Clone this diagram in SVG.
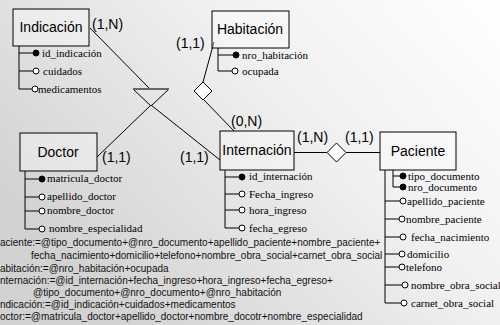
<svg xmlns="http://www.w3.org/2000/svg" width="500" height="325" viewBox="0 0 500 325">
<defs>
<linearGradient id="bg" x1="0" y1="0.6" x2="1" y2="0">
<stop offset="0" stop-color="#d2d2d2"/>
<stop offset="0.55" stop-color="#f0f0f0"/>
<stop offset="1" stop-color="#ffffff"/>
</linearGradient>
</defs>
<style>
.box{fill:#ffffff;fill-opacity:0.35;stroke:#000;stroke-width:1}
.ent{font-family:"Liberation Sans",Arial,sans-serif;font-size:14px;fill:#000;text-anchor:middle}
.card{font-family:"Liberation Sans",Arial,sans-serif;font-size:14px;fill:#000}
.att{font-family:"Liberation Serif","Times New Roman",serif;font-size:11px;fill:#000}
.ln{stroke:#000;stroke-width:1;fill:none}
.key{fill:#000;stroke:#000;stroke-width:1}
.opt{fill:#fff;stroke:#000;stroke-width:1}
.rel{fill:#fff;stroke:#000;stroke-width:1}
.def{font-family:"Liberation Sans",Arial,sans-serif;font-size:10px;fill:#111}
</style>
<rect width="500" height="325" fill="url(#bg)"/>

<g id="connectors">
<line class="ln" x1="90" y1="28" x2="150" y2="89"/>
<line class="ln" x1="151" y1="105" x2="97" y2="157"/>
<line class="ln" x1="151" y1="105" x2="220" y2="160"/>
<line class="ln" x1="214" y1="42" x2="203" y2="82"/>
<line class="ln" x1="204" y1="100" x2="234" y2="131"/>
<line class="ln" x1="294" y1="152.5" x2="327" y2="152.5"/>
<line class="ln" x1="346" y1="152.5" x2="380" y2="152.5"/>
</g>

<g id="rel-indicacion">
<polygon class="ln" points="133,89 169,89 151,106"/>
<line x1="133" y1="89" x2="169" y2="89" stroke="#666" stroke-width="2"/>
</g>
<g id="rel-habitacion">
<polygon class="rel" points="203,82 212,91 203,100 194,91"/>
</g>
<g id="rel-paciente">
<polygon class="rel" points="336.5,143 346,152.5 336.5,162 327,152.5"/>
</g>

<g id="labels">
<text class="card" x="92" y="29">(1,N)</text>
<text class="card" x="176" y="48">(1,1)</text>
<text class="card" x="231" y="126">(0,N)</text>
<text class="card" x="102" y="162">(1,1)</text>
<text class="card" x="180" y="162">(1,1)</text>
<text class="card" x="297" y="142">(1,N)</text>
<text class="card" x="345" y="142">(1,1)</text>
</g>

<g id="indicacion">
<rect class="box" x="13" y="9" width="76" height="37"/>
<text class="ent" x="51" y="32">Indicación</text>
<path class="ln" d="M19,46 V89 H33 M19,53 H33 M19,71 H33"/>
<circle class="key" cx="36" cy="53" r="3"/>
<circle class="opt" cx="36" cy="71" r="3"/>
<circle class="opt" cx="35" cy="89" r="3"/>
<text class="att" x="42" y="57">id_indicación</text>
<text class="att" x="43" y="75">cuidados</text>
<text class="att" x="38" y="93">medicamentos</text>
</g>

<g id="habitacion">
<rect class="box" x="212" y="11" width="77" height="37"/>
<text class="ent" x="250" y="34">Habitación</text>
<path class="ln" d="M218,48 V71 H232 M218,55 H233"/>
<circle class="key" cx="236" cy="55" r="3"/>
<circle class="opt" cx="235" cy="71" r="3"/>
<text class="att" x="242" y="59">nro_habitación</text>
<text class="att" x="242" y="75">ocupada</text>
</g>

<g id="doctor">
<rect class="box" x="20" y="133" width="77" height="38"/>
<text class="ent" x="58" y="157">Doctor</text>
<path class="ln" d="M25,171 V229 H39 M25,179 H39 M25,197 H39 M25,211 H39"/>
<circle class="key" cx="42" cy="179" r="3"/>
<circle class="opt" cx="42" cy="197" r="3"/>
<circle class="opt" cx="42" cy="211" r="3"/>
<circle class="opt" cx="42" cy="229" r="3"/>
<text class="att" x="47" y="182">matricula_doctor</text>
<text class="att" x="47" y="200">apellido_doctor</text>
<text class="att" x="47" y="214">nombre_doctor</text>
<text class="att" x="49" y="232">nombre_especialidad</text>
</g>

<g id="internacion">
<rect class="box" x="220" y="131" width="74" height="39"/>
<text class="ent" x="257" y="155">Internación</text>
<path class="ln" d="M225,170 V228 H239 M225,177 H239 M225,194 H239 M225,210 H239"/>
<circle class="key" cx="242" cy="177" r="3"/>
<circle class="opt" cx="242" cy="194" r="3"/>
<circle class="opt" cx="242" cy="210" r="3"/>
<circle class="opt" cx="242" cy="228" r="3"/>
<text class="att" x="249" y="180">id_internación</text>
<text class="att" x="249" y="198">Fecha_ingreso</text>
<text class="att" x="249" y="214">hora_ingreso</text>
<text class="att" x="249" y="232">fecha_egreso</text>
</g>

<g id="paciente">
<rect class="box" x="380" y="132" width="76" height="38"/>
<text class="ent" x="418" y="156">Paciente</text>
<path class="ln" d="M393,170 V187 H400 M393,176 H400"/>
<path class="ln" d="M385,170 V303 H401 M385,201 H400 M385,219 H399 M385,237 H400 M385,254 H399 M385,267 H399 M385,285 H402"/>
<circle class="key" cx="403" cy="176" r="3"/>
<circle class="key" cx="403" cy="187" r="3"/>
<circle class="opt" cx="403" cy="201" r="3"/>
<circle class="opt" cx="402" cy="219" r="3"/>
<circle class="opt" cx="403" cy="237" r="3"/>
<circle class="opt" cx="402" cy="254" r="3"/>
<circle class="opt" cx="402" cy="267" r="3"/>
<circle class="opt" cx="405" cy="285" r="3"/>
<circle class="opt" cx="404" cy="303" r="3"/>
<text class="att" x="408" y="180">tipo_documento</text>
<text class="att" x="408" y="191">nro_documento</text>
<text class="att" x="407" y="205">apellido_paciente</text>
<text class="att" x="406" y="223">nombre_paciente</text>
<text class="att" x="411" y="241">fecha_nacimiento</text>
<text class="att" x="407" y="258">domicilio</text>
<text class="att" x="406" y="271">telefono</text>
<text class="att" x="411" y="289">nombre_obra_social</text>
<text class="att" x="411" y="307">carnet_obra_social</text>
</g>

<g id="definitions">
<text class="def" x="0" y="246">aciente:=@tipo_documento+@nro_documento+apellido_paciente+nombre_paciente+</text>
<text class="def" x="31" y="259">fecha_nacimiento+domicilio+telefono+nombre_obra_social+carnet_obra_social</text>
<text class="def" x="0" y="272">abitación:=@nro_habitación+ocupada</text>
<text class="def" x="0" y="284">nternación:=@id_internación+fecha_ingreso+hora_ingreso+fecha_egreso+</text>
<text class="def" x="33" y="296">@tipo_documento+@nro_documento+@nro_habitación</text>
<text class="def" x="0" y="308">ndicación:=@id_indicación+cuidados+medicamentos</text>
<text class="def" x="0" y="320">octor:=@matricula_doctor+apellido_doctor+nombre_docotr+nombre_especialidad</text>
</g>
</svg>
